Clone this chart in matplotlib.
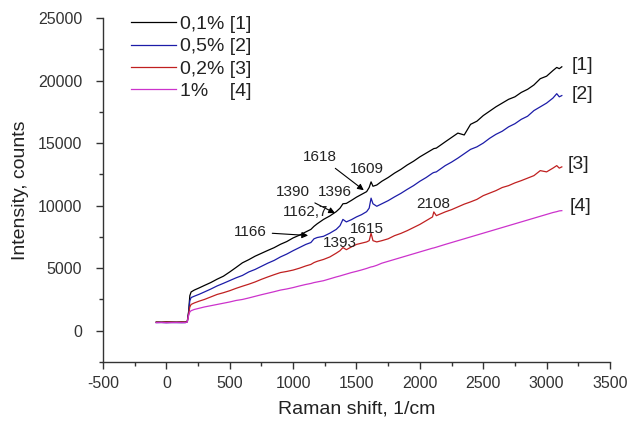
import matplotlib
matplotlib.use("Agg")
import matplotlib.pyplot as plt
from matplotlib.ticker import MultipleLocator

plt.rcParams['font.family'] = ['Liberation Sans', 'DejaVu Sans']
plt.rcParams['axes.unicode_minus'] = False

shift = [-80, -40, 0, 40, 80, 120, 150, 165, 175, 185, 195, 220, 260, 300, 350, 400, 450,
         500, 550, 600, 650, 700, 750, 800, 850, 900, 950, 1000, 1050, 1100, 1140, 1165,
         1190, 1240, 1290, 1340, 1370, 1393, 1420, 1460, 1500, 1540, 1580, 1600, 1615, 1630,
         1660, 1700, 1750, 1800, 1850, 1900, 1950, 2000, 2050, 2100, 2110, 2130, 2200, 2250,
         2300, 2350, 2400, 2450, 2500, 2550, 2600, 2650, 2700, 2750, 2800, 2850, 2900, 2950,
         3000, 3050, 3080, 3100, 3120]

s1 = [700, 690, 710, 700, 695, 705, 700, 760, 1500, 2800, 3100, 3250, 3430, 3620, 3850, 4120, 4360,
      4700, 5060, 5430, 5680, 5960, 6190, 6420, 6640, 6910, 7130, 7420, 7640, 7900, 8100, 8350,
      8550, 8900, 9180, 9520, 9800, 10150, 10180, 10420, 10680, 10900, 11120, 11450, 11900, 11550,
      11650, 11950, 12250, 12600, 12900, 13250, 13550, 13900, 14200, 14500, 14560, 14600, 15100, 15450,
      15800, 15650, 16500, 16750, 17200, 17550, 17900, 18200, 18500, 18700, 19050, 19300, 19650, 20150,
      20350, 20800, 21050, 20950, 21100]

s2 = [650, 660, 640, 655, 650, 645, 650, 700, 1400, 2400, 2650, 2760, 2920, 3100, 3330, 3580, 3790,
      4010, 4230, 4420, 4700, 4900, 5150, 5400, 5620, 5900, 6130, 6400, 6650, 6900, 7050, 7350,
      7450, 7550, 7800, 8100, 8400, 8900, 8700, 8880, 9100, 9280, 9520, 9800, 10600, 10150,
      9950, 10150, 10400, 10700, 10980, 11300, 11600, 11950, 12250, 12600, 12650, 12700, 13200, 13480,
      13800, 14150, 14500, 14700, 15000, 15380, 15700, 15950, 16300, 16550, 16900, 17150, 17600, 17900,
      18200, 18600, 18950, 18700, 18800]

s3 = [680, 670, 690, 680, 675, 685, 680, 720, 1300, 1900, 2100, 2220, 2370, 2500, 2700, 2900, 3040,
      3200, 3390, 3560, 3720, 3900, 4110, 4300, 4480, 4650, 4740, 4850, 5000, 5180, 5300, 5450,
      5550, 5700, 5900, 6200, 6400, 6650, 6480, 6700, 6900, 7000, 7100, 7200, 7800, 7200,
      7100, 7200, 7350, 7600, 7780, 8000, 8250, 8500, 8800, 9100, 9500, 9200, 9500, 9680,
      9900, 10120, 10300, 10500, 10800, 11000, 11200, 11450, 11600, 11820, 12000, 12200, 12400, 12800,
      12700, 13000, 13200, 13000, 13100]

s4 = [650, 655, 645, 650, 660, 650, 655, 700, 1200, 1500, 1600, 1700, 1800, 1900, 2000, 2100, 2200,
      2300, 2420, 2500, 2620, 2750, 2880, 3000, 3120, 3250, 3340, 3450, 3580, 3700, 3780, 3850,
      3900, 4000, 4150, 4300, 4380, 4450, 4530, 4650, 4750, 4860, 4980, 5050, 5100, 5130,
      5230, 5400, 5550, 5700, 5850, 6000, 6150, 6300, 6450, 6600, 6620, 6680, 6900, 7050,
      7200, 7350, 7500, 7650, 7800, 7950, 8100, 8250, 8400, 8550, 8700, 8850, 9000, 9150,
      9300, 9450, 9520, 9580, 9600]

series_labels = ['0,1% [1]', '0,5% [2]', '0,2% [3]', '1%    [4]']
end_labels = ['[1]', '[2]', '[3]', '[4]']
colors = ['#000000', '#1c1ca8', '#c02020', '#cc33cc']

fig = plt.figure(figsize=(6.41, 4.23), dpi=100)
ax = fig.add_axes([0.1607, 0.1442, 0.7909, 0.8132])

for ys, c, lab in zip([s1, s2, s3, s4], colors, series_labels):
    ax.plot(shift, ys, color=c, lw=0.9, label=lab)

ax.set_xlim(-500, 3500)
ax.set_ylim(-2500, 25000)
ax.xaxis.set_major_locator(MultipleLocator(500))
ax.xaxis.set_minor_locator(MultipleLocator(250))
ax.yaxis.set_major_locator(MultipleLocator(5000))
ax.yaxis.set_minor_locator(MultipleLocator(2500))
for side in ['top', 'right']:
    ax.spines[side].set_visible(False)
for side in ['left', 'bottom']:
    ax.spines[side].set_color('#333333')
    ax.spines[side].set_linewidth(1.0)
ax.tick_params(which='major', direction='out', length=5, width=1, color='#333333',
               labelsize=11.5, labelcolor='#333333')
ax.tick_params(axis='y', which='major', pad=10)
ax.tick_params(axis='x', which='major', pad=5)
ax.tick_params(which='minor', direction='out', length=3, width=1, color='#333333')

ax.set_xlabel('Raman shift, 1/cm', fontsize=14, color='#222222', labelpad=7)
ax.set_ylabel('Intensity, counts', fontsize=14, color='#222222', labelpad=6)

leg = ax.legend(loc='upper left', bbox_to_anchor=(0.04, 1.03), frameon=False, fontsize=14,
                handlelength=2.3, handletextpad=0.2, labelspacing=0.24, borderaxespad=0)
for t in leg.get_texts():
    t.set_color('#222222')

ann_kw = dict(fontsize=11, color='#222222')
arrow = dict(arrowstyle='-|>', color='black', lw=0.8, mutation_scale=9)
ax.annotate('1618', xy=(1575, 11100), xytext=(1215, 13900), ha='center', va='center',
            arrowprops=arrow, **ann_kw)
ax.text(1585, 12900, '1609', ha='center', va='center', **ann_kw)
ax.annotate('1390', xy=(1350, 9300), xytext=(1000, 11100), ha='center', va='center',
            arrowprops=arrow, **ann_kw)
ax.text(1330, 11100, '1396', ha='center', va='center', **ann_kw)
ax.text(1096, 9500, '1162,7', ha='center', va='center', **ann_kw)
ax.annotate('1166', xy=(1140, 7600), xytext=(662, 7900), ha='center', va='center',
            arrowprops=arrow, **ann_kw)
ax.text(1372, 7000, '1393', ha='center', va='center', **ann_kw)
ax.text(1585, 8100, '1615', ha='center', va='center', **ann_kw)
ax.text(2106, 10100, '2108', ha='center', va='center', **ann_kw)

for lab, xp, yp in zip(end_labels, [3281, 3281, 3250, 3265], [21200, 18850, 13300, 9900]):
    ax.text(xp, yp, lab, ha='center', va='center', fontsize=14, color='#222222')

fig.savefig('out.png', dpi=100)
